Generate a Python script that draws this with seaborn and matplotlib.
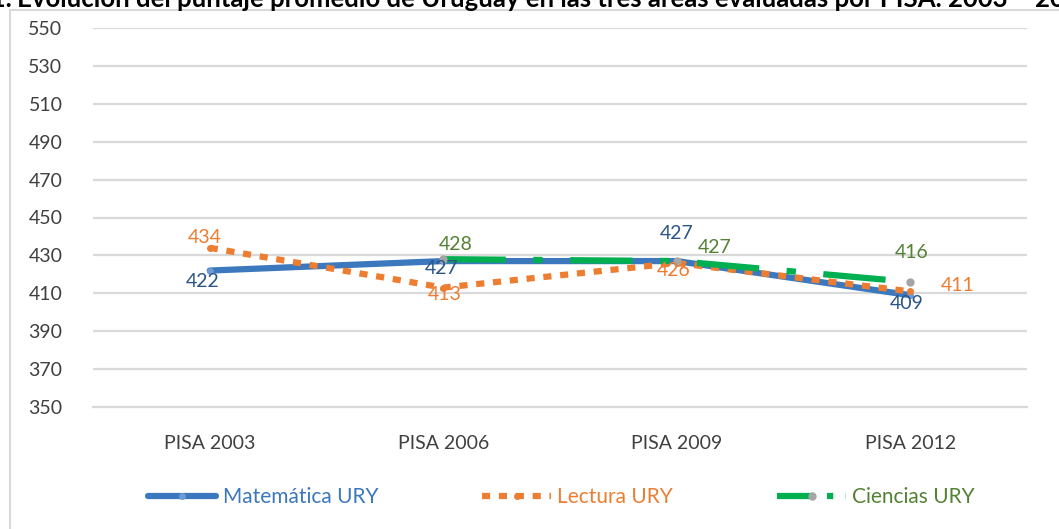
import matplotlib
matplotlib.use("Agg")
import matplotlib.pyplot as plt
import seaborn as sns
import numpy as np
import pandas as pd
from matplotlib.lines import Line2D
from matplotlib.patches import Rectangle

# ---- data ----
categories = ["PISA 2003", "PISA 2006", "PISA 2009", "PISA 2012"]
matematica = [422, 427, 427, 409]
lectura = [434, 413, 426, 411]
ciencias = [np.nan, 428, 427, 416]
series_names = ["Matemática URY", "Lectura URY", "Ciencias URY"]
y_ticks = list(range(350, 551, 20))
title_prefix = "Gráfico 1."
title_main = "Evolución del puntaje promedio de Uruguay en las tres áreas evaluadas por PISA. 2003 – 2012"

# ---- styles ----
sns.set_theme(style="white")
plt.rcParams['font.family'] = ['Lato', 'DejaVu Sans']

W, H = 1059, 529
fig = plt.figure(figsize=(W / 100, H / 100), dpi=100)
ax = fig.add_axes([93 / W, 1 - 407 / H, (1027 - 93) / W, (407 - 28) / H])

x = np.arange(len(categories))
df = pd.DataFrame({"x": np.tile(x, 3),
                   "y": matematica + lectura + ciencias,
                   "serie": np.repeat(series_names, len(categories))})

c_mat, c_mat_lab = "#3B78BD", "#2A5687"
c_lec = "#ED7D31"
c_cie, c_cie_lab = "#00B050", "#548235"
ls_lec = (0, (1.3, 1.4))
ls_cie = (0, (10, 4.4, 1.5, 4.4))

# gridlines
for yv in y_ticks[1:]:
    ax.axhline(yv, color="#D9D9D9", lw=1.6, zorder=0)

sub = df[df.serie == series_names[0]]
sns.lineplot(data=sub, x="x", y="y", ax=ax, color=c_mat, lw=4.5, zorder=3,
             marker="o", markersize=5, markerfacecolor="#6A9BD3", markeredgewidth=0)
sub = df[df.serie == series_names[1]]
sns.lineplot(data=sub, x="x", y="y", ax=ax, color=c_lec, lw=4.5, zorder=4,
             marker="o", markersize=5, markeredgewidth=0)
ax.lines[-1].set_linestyle(ls_lec)
ax.lines[-1].set_dash_capstyle("butt")
sub = df[df.serie == series_names[2]].dropna()
sns.lineplot(data=sub, x="x", y="y", ax=ax, color=c_cie, lw=4.5, zorder=5,
             marker="o", markersize=6, markerfacecolor="#A5A5A5", markeredgewidth=0)
ax.lines[-1].set_linestyle(ls_cie)

# data labels
fs_lab = 14
mat_off = [(-7, -11), (-2, -7), (0, 28), (-4, -8)]
lec_off = [(-5, 10), (1, -7), (-3, -8), (47, 6)]
cie_off = [None, (12, 15), (38, 14), (1, 29)]
for vals, offs, col in [(matematica, mat_off, c_mat_lab),
                        (lectura, lec_off, c_lec),
                        (ciencias, cie_off, c_cie_lab)]:
    for xi, v, o in zip(x, vals, offs):
        if o is None or np.isnan(v):
            continue
        ax.annotate(f"{int(v)}", (xi, v), xytext=o, textcoords="offset pixels",
                    ha="center", va="center", fontsize=fs_lab, color=col, zorder=6)

ax.set_xlim(-0.5, len(categories) - 0.5)
ax.set_ylim(350, 550)
ax.set_yticks(y_ticks)
ax.set_yticklabels([str(t) for t in y_ticks])
ax.set_xticks(x)
ax.set_xticklabels(categories)
ax.set_xticks(np.arange(-0.5, len(categories), 1.0), minor=True)
ax.tick_params(axis="x", which="major", length=0, pad=20, labelsize=14, colors="#404040")
ax.tick_params(axis="x", which="minor", length=8, width=1.6, color="#D9D9D9", direction="out")
ax.tick_params(axis="y", length=0, pad=22, labelsize=14, colors="#404040")
ax.set_xlabel("")
ax.set_ylabel("")
for s in ["top", "right", "left"]:
    ax.spines[s].set_visible(False)
ax.spines["bottom"].set_color("#D9D9D9")
ax.spines["bottom"].set_linewidth(1.6)
ax.set_facecolor("none")

# legend
handles = [
    Line2D([0], [0], color=c_mat, lw=4.5, marker="o", markersize=5,
           markerfacecolor="#6A9BD3", markeredgewidth=0),
    Line2D([0], [0], color=c_lec, lw=4.5, linestyle=ls_lec, marker="o",
           markersize=5, markeredgewidth=0),
    Line2D([0], [0], color=c_cie, lw=4.5, linestyle=(0, (6, 2, 1, 2)), marker="o",
           markersize=6, markerfacecolor="#A5A5A5", markeredgewidth=0),
]
leg = fig.legend(handles, series_names, loc="center", bbox_to_anchor=(0.53, 1 - 497 / H),
                 ncol=3, frameon=False, fontsize=15, handlelength=3.3,
                 handletextpad=0.3, columnspacing=5.0)
for t, col in zip(leg.get_texts(), [c_mat, c_lec, c_cie_lab]):
    t.set_color(col)

# chart frame
fig.patches.append(Rectangle((10 / W, -0.1), 1.2, 1 - 10 / H + 0.1, transform=fig.transFigure,
                             fill=False, edgecolor="#D9D9D9", lw=1.5))

# title (cut off at the top, as in the source)
fig.text(12 / W, 1 - 7 / H, title_prefix, ha="right", va="baseline", fontsize=18.5,
         fontweight="bold", color="#000000")
fig.text(17 / W, 1 - 7 / H, title_main, ha="left", va="baseline", fontsize=18.5,
         fontweight="bold", color="#000000")

fig.savefig("out.png", dpi=100)
